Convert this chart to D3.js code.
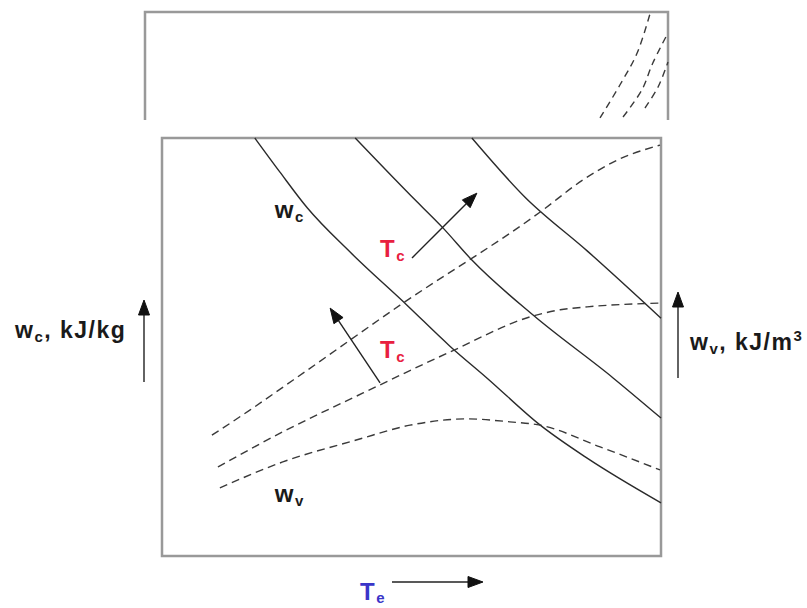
<!DOCTYPE html>
<html>
<head>
<meta charset="utf-8">
<script src="https://cdn.jsdelivr.net/npm/d3@7"></script>
<style>
  body { margin: 0; background: #fff; }
  svg { display: block; }
  .lbl { font-family: "Liberation Sans", Arial, sans-serif; font-weight: bold; letter-spacing: 1.5px; }
</style>
</head>
<body>
<svg width="807" height="608"></svg>
<script>
// Specific compressor work wc (solid), [Te, w] in relative units (0..100)
const wc1 = [[18.6, 100], [23.6, 91.9], [29.1, 83.3], [37.7, 72.7], [49.1, 60.0], [57.7, 50.2], [65.1, 42.6], [75.8, 31.3], [85.2, 23.4], [100, 12.7]];
const wc2 = [[38.7, 100], [49.7, 86.4], [56.3, 78.5], [62.1, 70.8], [74.3, 57.7], [90.4, 42.6], [100, 33.0]];
const wc3 = [[62.1, 100], [72.7, 85.9], [85.2, 73.0], [100, 56.9]];

// Volumetric work wv (dashed)
const wv1 = [[10.0, 28.9], [17.6, 34.9], [26.3, 42.1], [47.7, 60.0], [75.8, 82.3], [84.4, 90.0], [91.2, 94.7], [99.8, 98.3]];
const wv2 = [[11.2, 21.3], [24.2, 29.7], [40.3, 39.0], [57.7, 48.8], [74.3, 57.4], [79.8, 58.9], [85.2, 59.6], [99.8, 60.5]];
const wv3 = [[11.6, 16.3], [24.2, 22.5], [39.1, 27.8], [49.7, 31.3], [61.1, 32.8], [69.7, 32.1], [75.8, 31.3], [87.8, 26.1], [99.8, 20.6]];

// continuation of the curves in the upper panel
const upper1 = [[87.0, 1.9], [90.8, 32.4], [94.1, 62.0], [96.6, 99.1]];
const upper2 = [[91.4, 2.8], [95.0, 27.8], [97.1, 52.8], [100, 80.6]];
const upper3 = [[95.6, 11.1], [98.1, 30.6], [100, 53.7]];

// Tc arrows (from, to)
const tcArrows = [[[50.1, 71.3], [63.1, 86.8]], [[43.7, 41.4], [33.7, 59.3]]];

// in-chart labels: [Te, w, main, sub, colour]
const curveLabels = [
  [22.6, 80.9, "w", "c", "#1a1a1a"],
  [22.6, 12.9, "w", "v", "#1a1a1a"],
  [43.7, 71.5, "T", "c", "#e8203f"],
  [43.7, 47.4, "T", "c", "#e8203f"]
];

const svg = d3.select("svg");
const box = { left: 162, right: 661, top: 138, bottom: 556 };
const topBox = { left: 145, right: 668, top: 12, bottom: 120 };

const x = d3.scaleLinear().domain([0, 100]).range([box.left, box.right]);
const y = d3.scaleLinear().domain([0, 100]).range([box.bottom, box.top]);
const xTop = d3.scaleLinear().domain([0, 100]).range([topBox.left, topBox.right]);
const yTop = d3.scaleLinear().domain([0, 100]).range([topBox.bottom, topBox.top]);

// upper panel (open at the bottom)
svg.append("path")
  .attr("d", `M${topBox.left},${topBox.bottom}V${topBox.top}H${topBox.right}V${topBox.bottom}`)
  .attr("fill", "none")
  .attr("stroke", "#999")
  .attr("stroke-width", 2.5);

// main panel
svg.append("rect")
  .attr("x", box.left)
  .attr("y", box.top)
  .attr("width", box.right - box.left)
  .attr("height", box.bottom - box.top)
  .attr("fill", "none")
  .attr("stroke", "#999")
  .attr("stroke-width", 2.5);

const line = d3.line()
  .x(d => x(d[0]))
  .y(d => y(d[1]))
  .curve(d3.curveMonotoneX);

const lineTop = d3.line()
  .x(d => xTop(d[0]))
  .y(d => yTop(d[1]))
  .curve(d3.curveCatmullRom);

svg.append("g")
  .selectAll("path")
  .data([wc1, wc2, wc3])
  .join("path")
  .attr("d", line)
  .attr("fill", "none")
  .attr("stroke", "#2a2a2a")
  .attr("stroke-width", 1.4);

svg.append("g")
  .selectAll("path")
  .data([wv1, wv2, wv3])
  .join("path")
  .attr("d", line)
  .attr("fill", "none")
  .attr("stroke", "#3a3a3a")
  .attr("stroke-width", 1.4)
  .attr("stroke-dasharray", "8,5");

svg.append("g")
  .selectAll("path")
  .data([upper1, upper2, upper3])
  .join("path")
  .attr("d", lineTop)
  .attr("fill", "none")
  .attr("stroke", "#3a3a3a")
  .attr("stroke-width", 1.4)
  .attr("stroke-dasharray", "7,5");

// arrow: shaft plus a filled head at the end
function arrow(x1, y1, x2, y2) {
  const a = Math.atan2(y2 - y1, x2 - x1);
  const len = 15, half = 5.5;
  const bx = x2 - len * Math.cos(a), by = y2 - len * Math.sin(a);
  svg.append("line")
    .attr("x1", x1).attr("y1", y1)
    .attr("x2", bx).attr("y2", by)
    .attr("stroke", "#222")
    .attr("stroke-width", 1.4);
  svg.append("path")
    .attr("d", `M${x2},${y2}L${bx - half * Math.sin(a)},${by + half * Math.cos(a)}L${bx + half * Math.sin(a)},${by - half * Math.cos(a)}Z`)
    .attr("fill", "#111")
    .attr("stroke", "#111")
    .attr("stroke-width", 1);
}

tcArrows.forEach(d => arrow(x(d[0][0]), y(d[0][1]), x(d[1][0]), y(d[1][1])));

// axis arrows (outside the panels)
arrow(144, 382, 144, 300);
arrow(678, 378, 678, 292);
arrow(392, 582, 483, 582);

// labels inside the chart
const lbl = svg.append("g")
  .selectAll("text")
  .data(curveLabels)
  .join("text")
  .attr("class", "lbl")
  .attr("x", d => x(d[0]))
  .attr("y", d => y(d[1]))
  .attr("font-size", 24)
  .attr("fill", d => d[4]);
lbl.append("tspan").text(d => d[2]);
lbl.append("tspan").attr("font-size", 15).attr("dy", 4).text(d => d[3]);

// axis titles
function title(px, py, parts, colour) {
  const t = svg.append("text")
    .attr("class", "lbl")
    .attr("x", px)
    .attr("y", py)
    .attr("font-size", 23)
    .attr("fill", colour);
  parts.forEach(p => {
    t.append("tspan")
      .attr("font-size", p[1])
      .attr("dy", p[2])
      .text(p[0]);
  });
}

title(15, 338, [["w", 23, 0], ["c", 15, 4], [", kJ/kg", 23, -4]], "#1a1a1a");
title(690, 350, [["w", 23, 0], ["v", 15, 4], [", kJ/m", 23, -4], ["3", 15, -9]], "#1a1a1a");
title(360, 600, [["T", 24, 0], ["e", 15, 3]], "#3a35c8");
</script>
</body>
</html>
